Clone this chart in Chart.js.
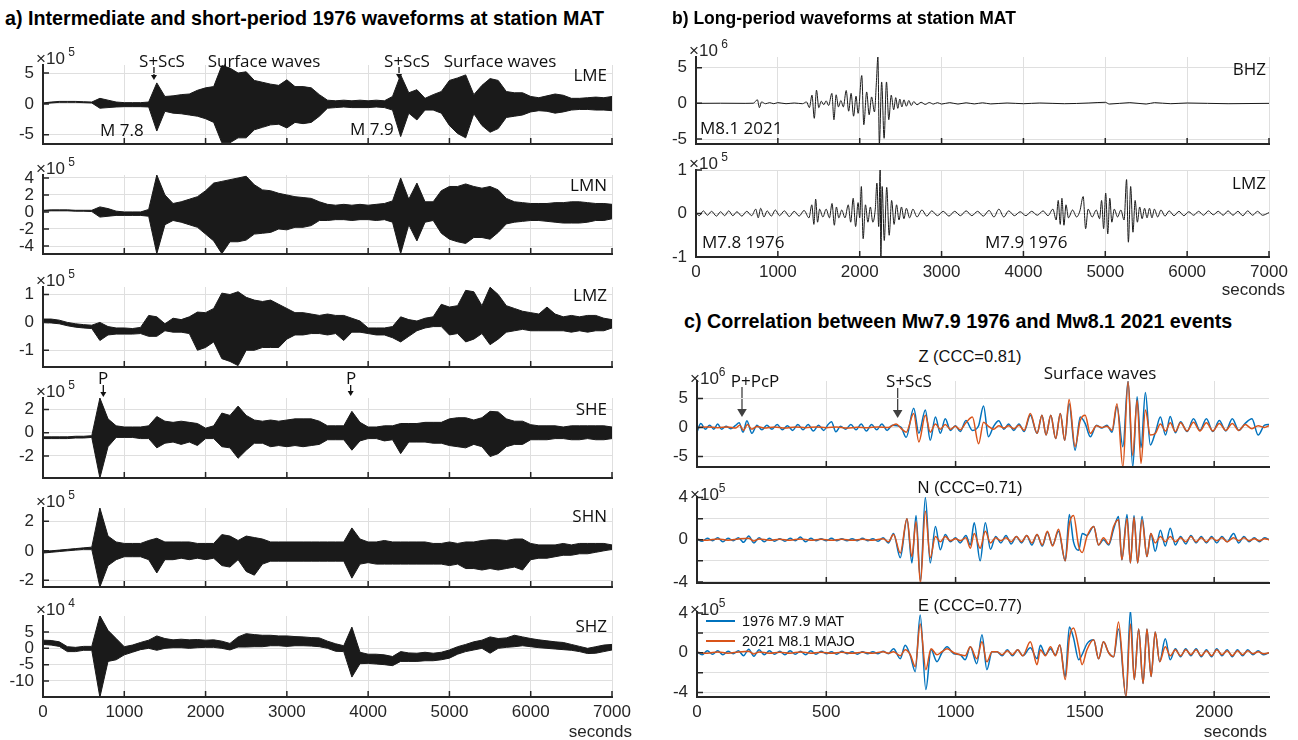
<!DOCTYPE html>
<html>
<head>
<meta charset="utf-8">
<script src="https://cdn.jsdelivr.net/npm/chart.js@4.4.0/dist/chart.umd.min.js"></script>
<style>
  body { margin: 0; width: 1298px; height: 740px; position: relative; overflow: hidden; background: #fff;
         font-family: "Liberation Sans", Arial, sans-serif; color: #262626; }
  canvas { position: absolute; }
  .t { position: absolute; white-space: nowrap; line-height: 1; }
  .ttl { font-weight: bold; font-size: 19.7px; color: #000; }
  .ttl.small { font-size: 17.5px; }
  .ann { font-family: "Open Sans", sans-serif; font-size: 17px; color: #111; }
  .sub { font-size: 16.5px; color: #111; }
  .exp { font-size: 17px; color: #262626; }
  .exp span { font-size: 12px; position: relative; top: -8px; }
  .tick { font-size: 17px; color: #262626; }
  .leg { font-size: 14.5px; color: #111; }
  #arrows { position: absolute; left: 0; top: 0; }
</style>
</head>
<body>
<svg id="arrows" width="1298" height="740"></svg>
<script>
// ---------- panel a: envelopes (upper / lower) every 100 s, units of the x10^n factor ----------
const aStep = 100;
const lmeUp = [0.15,0.3,0.4,0.4,0.4,0.35,0.3,0.9,0.6,0.3, 0.2,0.2,0.2,0.3,3.4,1.2,1.3,1.5,1.6,2.2,
  2.6,2.8,6.2,5.8,5.0,5.2,3.8,3.5,3.2,3.0, 3.9,2.8,2.8,2.6,1.5,0.6,0.5,0.6,0.5,0.6,
  0.5,0.6,0.5,1.2,4.7,1.8,2.3,0.9,1.5,2.0, 3.8,4.2,4.7,1.5,3.0,4.1,3.8,2.0,1.8,1.8,
  1.2,1.0,1.3,1.6,1.4,0.9,0.9,1.0,1.1,1.0, 1.2];
const lmeLo = [0.05,0.15,0.25,0.25,0.25,0.2,0.15,-0.7,-0.6,-0.5, -0.45,-0.45,-0.45,-0.5,-4.4,-1.2,-1.5,-1.6,-1.8,-2.0,
  -2.4,-3.0,-6.3,-6.3,-5.5,-5.5,-4.2,-3.8,-3.4,-3.3, -3.9,-3.0,-3.2,-3.0,-2.0,-0.7,-0.6,-0.5,-0.6,-0.6,
  -0.6,-0.5,-0.6,-1.0,-5.3,-1.5,-2.6,-1.0,-1.0,-1.5, -3.5,-4.8,-5.5,-1.6,-3.5,-4.6,-4.0,-2.2,-2.0,-1.8,
  -1.3,-1.1,-1.2,-1.5,-1.3,-1.0,-0.9,-0.9,-1.0,-1.0, -1.1];
const lmnUp = [0.2,0.25,0.25,0.25,0.2,0.2,0.2,0.6,0.4,0.1, 0.0,0.0,0.0,0.3,4.35,2.0,1.0,1.2,1.5,1.8,
  2.5,3.4,3.6,3.8,4.0,4.2,3.2,2.6,2.5,2.2, 2.0,1.8,1.7,1.6,1.2,0.9,0.8,0.9,0.8,0.9,
  0.8,0.9,1.0,1.3,4.0,1.5,3.4,1.2,1.2,2.5, 3.0,3.0,3.3,3.0,2.8,3.0,2.6,1.6,1.2,1.1,
  1.0,1.0,1.0,1.1,1.1,1.2,1.2,1.1,1.0,1.0, 0.9];
const lmnLo = [0.1,0.15,0.15,0.15,0.1,0.1,0.05,-0.6,-0.5,-0.4, -0.4,-0.4,-0.4,-0.5,-4.9,-1.5,-1.0,-1.2,-1.5,-1.8,
  -2.6,-3.4,-4.9,-3.5,-3.5,-3.3,-2.6,-2.5,-2.4,-2.0, -2.1,-1.8,-1.8,-1.6,-1.0,-1.0,-0.9,-0.9,-1.0,-0.9,
  -0.9,-1.0,-0.9,-1.2,-4.9,-1.5,-3.4,-1.2,-1.0,-2.5, -3.2,-3.5,-3.7,-3.0,-3.0,-3.2,-2.4,-1.4,-1.2,-1.1,
  -1.0,-1.0,-1.1,-1.2,-1.3,-1.3,-1.3,-1.2,-1.0,-1.0, -0.8];
const lmzUp = [0.12,0.12,0.08,0.0,-0.05,-0.08,-0.1,0.0,-0.15,-0.2, -0.2,-0.22,-0.18,0.25,0.2,-0.05,0.15,0.1,0.2,0.37,
  0.35,0.5,1.05,1.0,1.1,0.9,0.8,0.75,0.8,0.65, 0.5,0.35,0.35,0.3,0.25,0.3,0.25,0.25,0.15,0.05,
  -0.2,-0.2,-0.2,-0.15,0.2,0.1,0.05,0.15,0.2,0.65, 0.55,0.6,1.15,1.1,0.6,1.26,1.0,0.6,0.5,0.4,
  0.35,0.3,0.55,0.3,0.2,0.25,0.2,0.25,0.25,0.15, 0.1];
const lmzLo = [0.0,-0.02,-0.05,-0.12,-0.17,-0.2,-0.22,-0.65,-0.45,-0.42, -0.42,-0.42,-0.4,-0.5,-0.5,-0.3,-0.35,-0.35,-0.4,-1.0,
  -0.9,-0.7,-1.3,-1.4,-1.55,-1.0,-1.0,-0.9,-0.9,-0.9, -0.6,-0.45,-0.45,-0.4,-0.4,-0.45,-0.4,-0.65,-0.35,-0.35,
  -0.4,-0.45,-0.45,-0.55,-0.7,-0.5,-0.3,-0.2,-0.15,-0.15, -0.45,-0.4,-0.7,-0.6,-0.4,-0.8,-0.6,-0.35,-0.3,-0.25,
  -0.3,-0.3,-0.3,-0.3,-0.3,-0.35,-0.3,-0.35,-0.3,-0.3, -0.2];
const sheUp = [-0.35,-0.35,-0.35,-0.35,-0.3,-0.3,-0.25,3.0,1.2,0.6, 0.5,0.5,0.5,0.6,1.4,1.0,0.9,1.0,0.9,0.8,
  0.4,0.6,1.7,1.5,2.3,1.5,1.1,1.0,1.1,1.0, 1.1,1.2,1.2,1.2,1.0,0.6,0.6,0.6,1.85,0.9,
  0.5,0.5,0.6,0.6,0.8,0.8,0.8,0.9,0.9,0.9, 1.2,1.3,1.3,1.1,1.3,1.85,1.8,1.2,1.0,1.0,
  0.7,0.6,0.6,0.6,0.5,0.6,0.6,0.6,0.6,0.6, 0.5];
const sheLo = [-0.5,-0.5,-0.5,-0.5,-0.45,-0.45,-0.4,-3.9,-1.2,-0.4, -0.4,-0.4,-0.5,-0.5,-1.3,-0.9,-0.8,-1.0,-0.8,-1.1,
  -0.5,-0.5,-1.2,-1.3,-2.2,-1.5,-0.9,-0.9,-1.2,-1.1, -1.2,-1.1,-1.2,-1.1,-1.0,-0.6,-0.6,-0.6,-1.5,-0.7,
  -0.5,-0.5,-0.7,-0.6,-1.8,-0.8,-0.8,-0.8,-0.9,-0.9, -1.1,-1.2,-1.3,-1.0,-1.2,-2.05,-1.8,-1.2,-1.0,-1.0,
  -0.6,-0.6,-0.6,-0.5,-0.5,-0.6,-0.6,-0.5,-0.6,-0.6, -0.5];
const shnUp = [-0.05,0.0,0.05,0.1,0.15,0.2,0.25,2.9,1.0,0.6, 0.5,0.5,0.5,0.7,0.85,0.6,0.6,0.6,0.6,0.5,
  0.5,0.5,1.1,1.0,0.7,1.0,0.9,0.8,0.6,0.6, 0.6,0.6,0.6,0.6,0.6,0.6,0.6,0.6,1.55,0.8,
  0.6,0.6,0.7,0.6,0.6,0.6,0.6,0.6,0.5,0.5, 0.6,0.5,0.6,0.6,0.7,0.75,0.75,0.7,0.8,0.8,
  0.5,0.4,0.4,0.4,0.5,0.4,0.5,0.5,0.5,0.5, 0.4];
const shnLo = [-0.15,-0.1,-0.05,0.0,0.05,0.1,0.1,-2.45,-1.0,-0.6, -0.4,-0.4,-0.4,-0.6,-1.5,-0.6,-0.6,-0.5,-0.6,-0.5,
  -0.6,-0.5,-1.0,-1.1,-0.6,-1.4,-1.65,-0.9,-0.7,-0.7, -0.7,-0.7,-0.7,-0.7,-0.7,-0.7,-0.7,-0.7,-1.85,-0.9,
  -0.8,-0.9,-0.9,-0.9,-0.9,-0.9,-0.9,-0.9,-0.9,-0.9, -1.0,-0.9,-1.2,-1.2,-1.3,-1.2,-1.3,-1.2,-1.1,-1.3,
  -0.6,-0.5,-0.5,-0.4,-0.3,-0.3,-0.2,-0.2,-0.1,0.0, 0.1];
const shzUp = [2.5,2.4,2.0,0.5,0.3,0.6,0.6,10.0,5.5,3.0, 0.5,1.0,1.8,2.5,3.8,3.0,2.6,2.8,2.6,2.7,
  2.5,2.6,2.2,1.5,3.5,4.5,4.2,4.0,4.0,3.8, 3.8,3.6,3.5,3.3,3.2,2.2,1.4,0.8,6.5,-1.2,
  -1.8,-1.8,-2.0,-2.5,-1.0,-1.4,-1.5,-1.2,-1.5,-1.2, -0.5,0.5,1.2,2.0,2.5,3.5,3.0,3.2,4.0,3.5,
  3.0,2.6,2.3,2.0,1.8,1.2,0.6,0.0,0.5,1.0, 1.2];
const shzLo = [1.2,1.0,0.6,-1.0,-1.0,-0.6,-0.6,-15.0,-4.0,-3.5, -2.0,-1.2,-0.4,0.0,-0.6,0.0,0.2,0.2,0.0,0.2,
  0.3,0.3,0.0,-0.5,0.4,0.4,0.5,0.5,0.8,0.8, 0.6,0.8,0.8,0.7,0.5,0.0,-0.9,-1.0,-8.8,-4.7,
  -4.6,-4.8,-5.0,-5.3,-4.0,-4.0,-4.0,-3.8,-3.8,-3.5, -3.0,-1.8,-1.0,-0.5,0.0,-1.5,0.0,0.3,0.5,0.8,
  0.5,0.2,0.0,-0.2,-0.4,-0.6,-1.0,-1.6,-1.5,-1.0, -0.5];

// ---------- panel b: long-period traces, [seconds, amplitude] ----------
const bhzTrace = [[0,0],[300,0.02],[600,0],[700,0.02],[750,0.5],[775,-0.6],[800,0.2],[850,-0.05],[900,0.1],[950,-0.05],
  [1000,0.1],[1100,-0.05],[1200,0.05],[1300,-0.05],[1350,0.2],[1385,-0.6],[1417,1.15],[1445,-2.1],[1472,1.85],[1500,-0.6],
  [1530,0.3],[1560,-0.2],[1590,0.35],[1620,-0.3],[1660,1.4],[1685,-2.3],[1712,1.2],[1740,-0.5],[1770,0.4],[1800,-0.5],
  [1835,1.8],[1865,-1.1],[1895,1.4],[1925,-1.8],[1955,1.0],[1980,-1.4],[2025,3.9],[2050,-3.0],[2085,1.6],[2115,-1.6],
  [2145,0.9],[2180,-1.2],[2205,3.2],[2222,6.5],[2240,-5.7],[2268,3.0],[2298,-4.9],[2327,3.0],[2355,-2.3],[2385,1.15],
  [2415,-0.9],[2440,0.8],[2465,-0.7],[2490,0.6],[2515,-0.5],[2540,0.5],[2570,-0.4],[2600,0.4],[2630,-0.3],[2660,0.25],
  [2700,-0.2],[2750,0.15],[2800,-0.15],[2850,0.12],[2900,-0.1],[2950,0.1],[3000,-0.1],[3100,0.1],[3200,-0.1],[3300,0.08],
  [3400,-0.08],[3500,0.08],[3600,-0.08],[3800,0.05],[4000,-0.05],[4200,0.05],[4500,-0.05],[4800,0.05],[5000,0.15],[5050,-0.1],
  [5300,0.1],[5500,-0.1],[5600,0.1],[5800,-0.05],[6000,0.05],[6500,-0.05],[7000,0]];
const lmzTrace = [[0,0.02],[40,-0.05],[90,0.06],[140,-0.04],[190,0.05],[250,-0.06],[300,0.04],[350,-0.05],[400,0.06],[450,-0.05],
  [500,0.04],[560,-0.06],[620,0.05],[680,-0.05],[730,0.1],[760,-0.1],[790,0.12],[830,-0.08],[870,0.06],[920,-0.06],
  [970,0.08],[1020,-0.05],[1080,0.06],[1140,-0.07],[1200,0.05],[1260,-0.06],[1320,0.07],[1380,-0.1],[1415,0.2],[1440,-0.25],
  [1462,0.33],[1485,-0.2],[1510,0.1],[1550,-0.08],[1590,0.1],[1630,-0.1],[1662,0.23],[1690,-0.27],[1715,0.15],[1745,-0.1],
  [1780,0.08],[1820,-0.1],[1860,0.2],[1890,-0.2],[1920,0.35],[1950,-0.3],[1980,0.25],[2000,-0.1],[2020,0.62],[2042,-0.58],
  [2070,0.2],[2100,-0.2],[2130,0.15],[2160,-0.2],[2190,0.1],[2210,0.7],[2232,-0.3],[2250,1.05],[2258,-1.1],[2274,0.62],
  [2300,-0.62],[2330,0.6],[2360,-0.5],[2390,0.3],[2420,-0.25],[2450,0.2],[2480,-0.15],[2510,0.15],[2540,-0.12],[2570,0.12],
  [2610,-0.1],[2650,0.1],[2700,-0.08],[2760,0.08],[2820,-0.06],[2880,0.06],[2950,-0.05],[3020,0.05],[3090,-0.06],[3160,0.05],
  [3230,-0.05],[3300,0.06],[3370,-0.05],[3440,0.05],[3510,-0.06],[3580,0.07],[3640,-0.08],[3700,0.1],[3760,-0.08],[3820,0.06],
  [3890,-0.05],[3960,0.04],[4030,-0.05],[4100,0.05],[4170,-0.04],[4240,0.06],[4300,-0.05],[4360,0.1],[4400,-0.15],[4425,0.3],
  [4450,-0.25],[4470,0.35],[4495,-0.27],[4520,0.2],[4550,-0.1],[4600,0.08],[4650,-0.08],[4690,0.06],[4730,0.39],[4760,-0.35],
  [4790,0.1],[4840,-0.08],[4890,0.08],[4930,-0.12],[4955,0.3],[4980,-0.35],[5005,0.47],[5030,-0.47],[5055,0.35],[5080,-0.2],
  [5110,0.1],[5150,-0.08],[5190,0.08],[5230,-0.15],[5260,0.78],[5282,-0.66],[5310,0.62],[5338,-0.43],[5365,0.3],[5392,-0.2],
  [5420,0.15],[5450,-0.12],[5480,0.12],[5510,-0.1],[5540,0.12],[5570,-0.1],[5600,0.1],[5640,-0.08],[5680,0.08],[5730,-0.06],
  [5780,0.06],[5840,-0.05],[5900,0.05],[5960,-0.05],[6020,0.04],[6080,-0.04],[6140,0.05],[6200,-0.04],[6260,0.06],[6320,-0.03],
  [6380,0.05],[6440,-0.04],[6500,0.06],[6560,-0.04],[6620,0.05],[6680,-0.05],[6740,0.06],[6800,-0.04],[6860,0.05],[6920,-0.04],[7000,0.02]];

// ---------- panel c: 1976 MAT (blue) and 2021 MAJO (red), [seconds, amplitude] ----------
const zMat = [[0,-0.75],[15,0.7],[32,-0.3],[49,0.4],[65,-0.3],[80,0.6],[95,-0.3],[112,0.2],[130,-0.2],[148,0.3],
  [163,0.8],[178,-0.8],[193,1.15],[212,-1.0],[232,0.4],[251,-0.4],[270,0.4],[290,-0.3],[310,0.5],[330,-0.4],
  [350,0.3],[370,-0.5],[390,0.5],[410,-0.4],[430,0.5],[450,-0.6],[470,0.4],[490,-0.5],[505,0.4],[520,1.0],
  [537,-0.75],[555,0.2],[575,-0.3],[595,0.5],[615,-0.4],[635,0.6],[655,-0.6],[675,0.5],[695,-0.4],[715,0.6],
  [735,-0.5],[755,0.4],[775,0.3],[790,0.0],[809,-1.7],[838,3.3],[858,-1.0],[883,3.0],[902,-2.2],[922,1.8],
  [941,-1.0],[960,1.5],[980,-0.5],[999,0.3],[1018,-0.7],[1040,1.2],[1065,-0.5],[1089,0.3],[1108,3.7],[1127,-1.6],
  [1147,0.2],[1167,1.15],[1187,-0.3],[1205,0.6],[1225,-0.5],[1245,0.6],[1265,-0.7],[1289,2.1],[1315,-1.0],[1334,2.1],
  [1350,-1.3],[1368,2.1],[1387,-1.9],[1405,2.4],[1422,-2.2],[1439,4.1],[1462,-3.9],[1482,1.8],[1501,0.7],[1521,-1.6],
  [1545,0.4],[1565,-0.1],[1585,0.4],[1605,-0.8],[1624,3.6],[1647,-3.3],[1667,8.0],[1685,-6.8],[1702,5.3],[1717,-3.5],
  [1734,6.0],[1753,-3.0],[1773,-0.8],[1792,1.8],[1812,-1.3],[1830,1.9],[1850,-0.9],[1870,1.0],[1895,-0.7],[1920,1.5],
  [1945,-0.5],[1970,1.5],[1995,-0.7],[2020,1.2],[2045,-0.6],[2070,1.5],[2095,-0.5],[2120,0.7],[2146,1.5],[2170,-1.3],
  [2195,0.4],[2212,0.5]];
const zMajo = [[0,0.0],[40,0.1],[80,-0.05],[120,0.1],[150,-0.1],[165,0.4],[180,-0.5],[195,0.5],[212,-0.3],[232,0.15],
  [260,-0.1],[300,0.1],[340,-0.1],[380,0.1],[420,-0.05],[460,0.1],[500,-0.05],[540,0.1],[580,-0.1],[620,0.05],
  [660,-0.05],[700,0.1],[740,0.0],[770,0.6],[790,-0.2],[809,-0.8],[838,2.4],[858,-2.5],[883,2.1],[902,-0.8],
  [922,0.6],[941,-0.3],[960,0.5],[980,-0.3],[999,0.2],[1018,-0.4],[1040,0.8],[1065,1.8],[1089,-2.8],[1108,0.9],
  [1127,0.2],[1147,-0.3],[1167,0.3],[1187,-0.1],[1205,0.3],[1225,-0.2],[1245,0.4],[1265,-0.5],[1289,2.4],[1315,-1.0],
  [1334,2.1],[1350,-1.3],[1368,2.1],[1387,-1.9],[1405,2.4],[1422,-2.2],[1439,4.8],[1462,-3.3],[1482,1.2],[1501,2.1],
  [1521,-1.0],[1545,0.3],[1565,0.0],[1585,0.2],[1605,-0.5],[1624,4.1],[1647,-6.8],[1667,7.9],[1685,-4.8],[1702,4.7],
  [1717,-6.2],[1734,3.0],[1753,-1.3],[1773,-1.0],[1792,0.6],[1812,-0.6],[1830,0.8],[1850,-0.7],[1870,0.8],[1895,-0.6],
  [1920,0.9],[1945,-0.6],[1970,0.8],[1995,-0.6],[2020,0.7],[2045,-0.5],[2070,0.7],[2095,-0.5],[2120,0.5],[2146,-0.2],
  [2170,0.3],[2195,0.0],[2212,0.3]];
const nMat = [[0,0.1],[20,-0.15],[40,0.15],[60,-0.1],[80,0.2],[100,-0.2],[120,0.15],[140,-0.1],[160,0.2],[180,-0.25],
  [200,0.35],[220,-0.3],[240,0.2],[260,-0.2],[280,0.15],[300,-0.15],[320,0.1],[340,-0.15],[360,0.15],[380,-0.1],
  [400,0.25],[420,-0.2],[440,0.15],[460,-0.1],[480,0.1],[500,-0.1],[520,0.15],[540,-0.1],[560,0.1],[580,-0.1],
  [600,0.1],[620,-0.1],[640,0.15],[660,-0.1],[680,0.1],[700,-0.15],[720,0.2],[740,-0.3],[760,0.6],[786,-1.7],
  [812,2.0],[831,-2.2],[847,2.3],[864,-3.9],[883,4.0],[902,-2.2],[922,1.25],[941,-0.95],[960,0.5],[980,-0.2],
  [1000,0.2],[1018,-0.3],[1040,0.4],[1057,-0.5],[1072,1.6],[1095,-2.0],[1115,1.6],[1135,-0.9],[1155,0.3],[1175,-0.3],
  [1195,0.4],[1215,-0.4],[1235,0.3],[1255,-0.3],[1275,0.4],[1295,-0.5],[1315,0.5],[1335,-0.6],[1355,0.7],[1375,-0.5],
  [1398,0.8],[1424,-2.0],[1440,2.4],[1456,-0.2],[1476,-1.0],[1490,0.6],[1508,0.4],[1534,1.25],[1553,-0.5],[1572,0.0],
  [1592,-0.5],[1611,1.0],[1630,2.2],[1643,-1.9],[1663,2.4],[1676,-2.2],[1690,2.3],[1704,-2.2],[1721,2.2],[1740,-1.6],
  [1755,0.6],[1772,-1.1],[1792,0.9],[1811,-0.6],[1830,1.1],[1850,-0.5],[1870,0.3],[1890,-0.4],[1910,0.4],[1930,-0.3],
  [1950,0.3],[1970,-0.3],[1990,0.3],[2010,-0.3],[2030,0.3],[2050,-0.2],[2075,0.6],[2095,-0.3],[2115,0.3],[2135,-0.2],
  [2155,0.2],[2175,-0.2],[2195,0.2],[2212,0.0]];
const nMajo = [[0,0.05],[40,-0.05],[80,0.08],[120,-0.05],[160,0.08],[200,0.15],[220,-0.12],[240,0.08],[280,-0.05],[320,0.05],
  [360,-0.05],[400,0.08],[440,-0.05],[480,0.05],[520,-0.05],[560,0.05],[600,-0.05],[640,0.05],[680,-0.05],[720,0.1],
  [740,-0.2],[760,0.5],[786,-1.25],[812,2.0],[831,-1.6],[847,1.7],[864,-4.1],[883,2.7],[902,-1.7],[922,0.3],
  [941,-0.2],[960,0.3],[980,-0.1],[1000,0.1],[1018,-0.1],[1040,0.2],[1057,-0.8],[1072,0.6],[1095,-0.8],[1115,0.8],
  [1135,-0.3],[1155,0.2],[1175,-0.1],[1195,0.2],[1215,-0.2],[1235,0.3],[1255,-0.2],[1275,0.4],[1295,-0.3],[1315,0.5],
  [1335,-0.5],[1355,0.8],[1375,-0.6],[1398,1.0],[1424,-2.0],[1440,1.5],[1456,2.3],[1476,-0.6],[1490,-1.2],[1508,0.3],
  [1534,1.25],[1553,-0.5],[1572,0.2],[1592,-0.4],[1611,1.25],[1630,1.9],[1643,-1.9],[1663,2.0],[1676,-2.2],[1690,2.1],
  [1704,-2.2],[1721,1.9],[1740,-1.6],[1755,0.6],[1772,-0.3],[1792,0.3],[1811,-0.2],[1830,0.3],[1850,-0.2],[1870,0.2],
  [1890,-0.2],[1910,0.3],[1930,-0.2],[1950,0.2],[1970,-0.2],[1990,0.2],[2010,-0.1],[2030,0.2],[2050,-0.2],[2075,0.2],
  [2095,-0.1],[2115,0.2],[2135,-0.1],[2155,0.1],[2175,-0.1],[2195,0.1],[2212,0.0]];
const eMat = [[0,0.1],[20,-0.2],[40,0.2],[60,-0.15],[80,0.2],[100,-0.2],[120,0.15],[140,-0.1],[160,0.2],[180,-0.3],
  [200,0.35],[220,-0.35],[240,0.3],[260,-0.2],[280,0.2],[300,-0.15],[320,0.15],[340,-0.2],[360,0.2],[380,-0.15],
  [400,0.15],[420,-0.2],[440,0.2],[460,-0.15],[480,0.15],[500,-0.1],[520,0.1],[540,-0.15],[560,0.15],[580,-0.1],
  [600,0.1],[620,-0.15],[640,0.1],[660,-0.1],[680,0.1],[700,-0.1],[720,0.15],[740,-0.1],[760,0.4],[786,-0.6],
  [805,0.75],[825,-0.3],[844,-1.9],[863,3.8],[885,-3.7],[905,0.3],[928,-0.9],[947,0.0],[967,0.6],[993,-0.1],
  [1018,-0.2],[1037,-0.7],[1057,0.6],[1082,-1.1],[1102,1.8],[1121,-1.7],[1141,0.1],[1160,0.1],[1180,-0.3],[1200,0.3],
  [1220,-0.3],[1240,0.3],[1260,-0.3],[1289,0.5],[1315,-0.6],[1328,0.75],[1347,-0.2],[1367,0.4],[1386,-0.2],[1403,0.75],
  [1424,-2.4],[1440,2.6],[1456,1.5],[1476,-0.7],[1489,-0.2],[1508,0.9],[1534,1.3],[1553,-0.6],[1572,1.1],[1592,0.0],
  [1611,-0.4],[1630,2.4],[1659,-4.4],[1676,4.3],[1691,-2.7],[1708,2.4],[1725,-3.1],[1740,2.4],[1756,-2.4],[1772,2.1],
  [1789,-0.9],[1811,1.4],[1830,-0.7],[1850,0.4],[1870,-0.4],[1890,0.4],[1910,-0.3],[1930,0.4],[1950,-0.4],[1970,0.3],
  [1990,-0.4],[2010,0.4],[2030,-0.3],[2050,0.3],[2070,-0.4],[2090,0.3],[2110,-0.3],[2130,0.3],[2150,-0.2],[2170,0.2],
  [2190,-0.2],[2212,0.0]];
const eMajo = [[0,0.05],[40,-0.05],[80,0.08],[120,-0.05],[160,0.08],[200,0.15],[220,-0.12],[240,0.08],[280,-0.05],[320,0.05],
  [360,-0.05],[400,0.08],[440,-0.05],[480,0.05],[520,-0.05],[560,0.05],[600,-0.05],[640,0.05],[680,-0.05],[720,0.1],
  [740,-0.05],[760,0.1],[786,-0.3],[805,0.3],[825,-0.2],[844,-1.4],[863,2.9],[885,-1.7],[905,0.4],[928,-0.2],
  [947,0.1],[967,0.4],[993,0.0],[1018,-0.2],[1037,-0.3],[1057,0.6],[1082,-0.6],[1102,1.1],[1121,-0.9],[1141,0.1],
  [1160,0.1],[1180,-0.2],[1200,0.2],[1220,-0.2],[1240,0.3],[1260,-0.3],[1289,1.1],[1315,-1.2],[1328,0.3],[1347,-0.3],
  [1367,0.6],[1386,-0.3],[1403,0.8],[1424,-2.7],[1440,1.5],[1456,2.5],[1476,0.5],[1489,-1.2],[1508,0.3],[1534,1.3],
  [1553,-0.6],[1572,1.1],[1592,0.0],[1611,-0.4],[1630,3.1],[1659,-4.45],[1676,2.9],[1691,-2.7],[1708,2.4],[1725,-3.1],
  [1740,2.4],[1756,-2.4],[1772,2.1],[1789,-0.9],[1811,0.6],[1830,-0.3],[1850,0.3],[1870,-0.3],[1890,0.3],[1910,-0.2],
  [1930,0.3],[1950,-0.3],[1970,0.2],[1990,-0.3],[2010,0.3],[2030,-0.2],[2050,0.2],[2070,-0.3],[2090,0.2],[2110,-0.2],
  [2130,0.2],[2150,-0.1],[2170,0.1],[2190,-0.1],[2212,0.0]];

const ticksA = [0, 1000, 2000, 3000, 4000, 5000, 6000, 7000];
const ticksC = [0, 500, 1000, 1500, 2000];

// ---------- styling ----------
const ink = '#1a1a1a', blue = '#0072BD', red = '#D95319';
const gridC = '#dfdfdf', axisC = '#262626';
const L = 50, T = 14, R = 34;
Chart.defaults.font.family = '"Liberation Sans", Arial, sans-serif';
Chart.defaults.color = axisC;

// MATLAB style: short tick marks pointing into the axes
const inwardTicks = {
  id: 'inwardTicks',
  afterDatasetsDraw(chart) {
    const { ctx, chartArea: a, scales: { x, y } } = chart;
    ctx.save();
    ctx.strokeStyle = axisC;
    ctx.lineWidth = 1.5;
    ctx.beginPath();
    x.ticks.forEach(t => {
      const px = x.getPixelForValue(t.value);
      ctx.moveTo(px, a.bottom); ctx.lineTo(px, a.bottom - 6);
    });
    y.ticks.forEach(t => {
      const py = y.getPixelForValue(t.value);
      ctx.moveTo(a.left, py); ctx.lineTo(a.left + 6, py);
    });
    ctx.stroke();
    ctx.restore();
  }
};

function envelope(up, lo) {
  const pts = arr => arr.map((v, i) => ({ x: i * aStep, y: v }));
  return [
    { data: pts(up), borderColor: ink, borderWidth: 1, pointRadius: 0, fill: false },
    { data: pts(lo), borderColor: ink, borderWidth: 1, pointRadius: 0, fill: '-1', backgroundColor: ink }
  ];
}

function trace(pairs, color, width) {
  return {
    data: pairs.map(([x, y]) => ({ x, y })),
    borderColor: color, borderWidth: width, pointRadius: 0, fill: false,
    tension: 0.4, cubicInterpolationMode: 'monotone'
  };
}

function addText(html, x, y, cls, align) {
  const d = document.createElement('div');
  d.className = 't ' + cls;
  d.innerHTML = html;
  d.style.left = x + 'px';
  d.style.top = y + 'px';
  const tx = align === 'l' ? '0' : align === 'r' ? '-100%' : '-50%';
  d.style.transform = `translate(${tx}, -50%)`;
  document.body.appendChild(d);
  return d;
}

function makeAxes(p) {
  const B = p.xLabels ? 32 : 14;
  const w = p.r - p.l + L + R, h = p.b - p.t + T + B;
  const cv = document.createElement('canvas');
  cv.width = w; cv.height = h;
  cv.style.left = (p.l - L) + 'px';
  cv.style.top = (p.t - T) + 'px';
  document.body.appendChild(cv);
  const tickFont = { size: 17 };
  const chart = new Chart(cv, {
    type: 'line',
    data: { datasets: p.datasets },
    options: {
      responsive: false, animation: false, events: [],
      layout: { padding: { top: T, right: R, left: 0, bottom: 0 } },
      plugins: { legend: { display: false }, tooltip: { enabled: false } },
      scales: {
        x: {
          type: 'linear', min: 0, max: p.xMax,
          afterBuildTicks: s => { s.ticks = p.xTicks.map(v => ({ value: v })); },
          afterFit: s => { s.height = B; s.paddingLeft = 0; s.paddingRight = 0; },
          grid: { color: gridC, lineWidth: 1, drawTicks: false },
          border: { color: axisC, width: 2, z: 1 },
          ticks: { display: !!p.xLabels, padding: 5, font: tickFont, maxRotation: 0, autoSkip: false,
                   callback: v => String(v) }
        },
        y: {
          type: 'linear', min: p.yMin, max: p.yMax,
          afterBuildTicks: s => { s.ticks = p.yTicks.map(v => ({ value: v })); },
          afterFit: s => { s.width = L; s.paddingTop = 0; s.paddingBottom = 0; },
          grid: { color: gridC, lineWidth: 1, drawTicks: false },
          border: { color: axisC, width: 2, z: 1 },
          ticks: { padding: 9, font: tickFont, autoSkip: false,
                   callback: v => (!p.yShow || p.yShow.includes(v)) ? String(v) : '' }
        }
      }
    },
    plugins: [inwardTicks]
  });
  // x10^n factor above the y axis
  const gap = p.tightExp ? '' : '&thinsp;';
  addText(`×10${gap}<span>${p.exp}</span>`, p.l - 7, p.t - 7 + (p.expDy || 0), 'exp', 'l');
  return chart;
}

// ---------- panel a ----------
const aBox = { l: 43, r: 612, xMax: 7000, xTicks: ticksA };
const a1 = makeAxes({ ...aBox, t: 65,  b: 144, yMin: -6.5, yMax: 6.3,  yTicks: [-5, 0, 5], exp: 5, datasets: envelope(lmeUp, lmeLo) });
const a2 = makeAxes({ ...aBox, t: 175, b: 254, yMin: -4.94, yMax: 4.35, yTicks: [-4, -2, 0, 2, 4], exp: 5, datasets: envelope(lmnUp, lmnLo) });
const a3 = makeAxes({ ...aBox, t: 287, b: 367, yMin: -1.6, yMax: 1.27, yTicks: [-1, 0, 1], exp: 5, datasets: envelope(lmzUp, lmzLo) });
const a4 = makeAxes({ ...aBox, t: 398, b: 478, yMin: -3.9, yMax: 3.0,  yTicks: [-2, 0, 2], exp: 5, datasets: envelope(sheUp, sheLo) });
const a5 = makeAxes({ ...aBox, t: 508, b: 587, yMin: -2.45, yMax: 2.9, yTicks: [-2, 0, 2], exp: 5, datasets: envelope(shnUp, shnLo) });
const a6 = makeAxes({ ...aBox, t: 616, b: 697, yMin: -14.9, yMax: 9.9, yTicks: [-10, -5, 0, 5], exp: 4, xLabels: true, datasets: envelope(shzUp, shzLo) });

// ---------- panel b ----------
const bBox = { l: 696, r: 1269, xMax: 7000, xTicks: ticksA };
const b1 = makeAxes({ ...bBox, t: 57,  b: 144, yMin: -5.7, yMax: 6.5, yTicks: [-5, 0, 5], exp: 6, datasets: [trace(bhzTrace, ink, 1)] });
const b2 = makeAxes({ ...bBox, t: 170, b: 257, yMin: -1, yMax: 1, yTicks: [-1, 0, 1], exp: 5, xLabels: true, datasets: [trace(lmzTrace, ink, 1)] });

// ---------- panel c ----------
const cBox = { l: 697, r: 1269, xMax: 2212, xTicks: ticksC, tightExp: true, expDy: 4 };
const c1 = makeAxes({ ...cBox, t: 381, b: 467, yMin: -6.8, yMax: 8, yTicks: [-5, 0, 5], exp: 6,
  datasets: [trace(zMajo, red, 1.5), trace(zMat, blue, 1.5)] });
const c2 = makeAxes({ ...cBox, t: 497, b: 583, yMin: -4.1, yMax: 4.05, yTicks: [-4, -2, 0, 2, 4], yShow: [-4, 0, 4], exp: 5,
  datasets: [trace(nMajo, red, 1.5), trace(nMat, blue, 1.5)] });
const c3 = makeAxes({ ...cBox, t: 612, b: 697, yMin: -4.45, yMax: 4.1, yTicks: [-4, -2, 0, 2, 4], yShow: [-4, 0, 4], exp: 5, xLabels: true,
  datasets: [trace(eMajo, red, 1.5), trace(eMat, blue, 1.5)] });

// ---------- titles and labels ----------
addText('a) Intermediate and short-period 1976 waveforms at station MAT', 5, 19, 'ttl', 'l');
addText('b) Long-period waveforms at station MAT', 672, 19, 'ttl small', 'l');
addText('c) Correlation between Mw7.9 1976 and Mw8.1 2021 events', 684, 322, 'ttl', 'l');

addText('S+ScS', 162, 60, 'ann', 'c');
addText('Surface waves', 264, 60, 'ann', 'c');
addText('S+ScS', 407, 60, 'ann', 'c');
addText('Surface waves', 500, 60, 'ann', 'c');
addText('M 7.8', 100, 129, 'ann', 'l');
addText('M 7.9', 350, 128, 'ann', 'l');
[['LME', 74], ['LMN', 184], ['LMZ', 294], ['SHE', 408], ['SHN', 515], ['SHZ', 625]]
  .forEach(([s, y]) => addText(s, 607, y, 'ann', 'r'));
addText('P', 103, 377, 'ann', 'c');
addText('P', 351, 377, 'ann', 'c');
addText('seconds', 632, 731, 'tick', 'r');

addText('BHZ', 1266, 68, 'ann', 'r');
addText('LMZ', 1266, 182, 'ann', 'r');
addText('M8.1 2021', 700, 127, 'ann', 'l');
addText('M7.8 1976', 702, 241, 'ann', 'l');
addText('M7.9 1976', 985, 241, 'ann', 'l');
addText('seconds', 1285, 289, 'tick', 'r');

addText('Z (CCC=0.81)', 970, 356, 'sub', 'c');
addText('N (CCC=0.71)', 970, 487, 'sub', 'c');
addText('E (CCC=0.77)', 970, 605, 'sub', 'c');
addText('P+PcP', 755, 380, 'ann', 'c');
addText('S+ScS', 909, 380, 'ann', 'c');
addText('Surface waves', 1100, 372, 'ann', 'c');
addText('seconds', 1267, 731, 'tick', 'r');

// legend of panel c
[[blue, '1976 M7.9 MAT', 621], [red, '2021 M8.1 MAJO', 641]].forEach(([c, s, y]) => {
  const ln = document.createElement('div');
  ln.style.cssText = `position:absolute;left:706px;top:${y - 1}px;width:29px;height:2px;background:${c}`;
  document.body.appendChild(ln);
  addText(s, 742, y, 'leg', 'l');
});

// ---------- arrows, placed at the arrival times through the chart scales ----------
const svg = document.getElementById('arrows');
function arrow(chart, t, y1, y2, head, color, w) {
  const x = chart.canvas.offsetLeft + chart.scales.x.getPixelForValue(t);
  svg.innerHTML += `<line x1="${x}" y1="${y1}" x2="${x}" y2="${y2 - head + 1}" stroke="${color}" stroke-width="${w}"/>` +
    `<polygon points="${x - head * 0.6},${y2 - head} ${x + head * 0.6},${y2 - head} ${x},${y2}" fill="${color}"/>`;
}
arrow(a1, 1365, 67, 80, 5, '#111', 1.3);
arrow(a1, 4380, 67, 79, 5, '#111', 1.3);
arrow(a4, 742, 385, 397, 5, '#111', 1.3);
arrow(a4, 3785, 385, 396, 5, '#111', 1.3);
arrow(c1, 174, 387, 417, 8, '#404040', 1.3);
arrow(c1, 776, 388, 418, 8, '#404040', 1.3);
</script>
</body>
</html>
